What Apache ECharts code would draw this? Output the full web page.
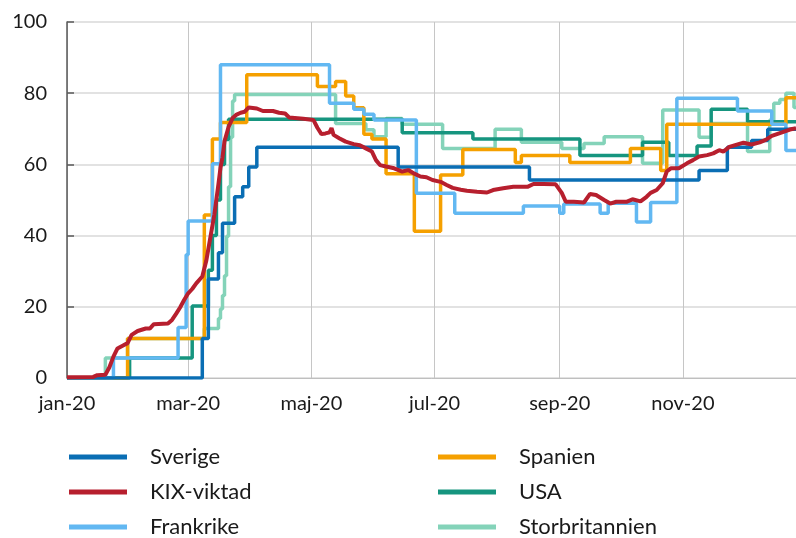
<!DOCTYPE html>
<html>
<head>
<meta charset="utf-8">
<script src="https://cdn.jsdelivr.net/npm/echarts@6/dist/echarts.min.js"></script>
<style>
  html, body { margin: 0; padding: 0; background: #fff; }
  #chart { width: 796px; height: 538px; }
</style>
</head>
<body>
<div id="chart"></div>
<script>
// axis setup
const monthNames = ['jan', 'feb', 'mar', 'apr', 'maj', 'jun', 'jul', 'aug', 'sep', 'okt', 'nov', 'dec']
const xStart = '2020-01-01'
const xEnd = '2020-12-27'
const yMin = 0
const yMax = 100
const yStep = 20

// stringency index, [date, value] where the value holds from that date on
const sverige = [
  ['2020-01-01', 0], ['2020-03-08', 11.1], ['2020-03-11', 27.8], ['2020-03-16', 35.2],
  ['2020-03-18', 43.5], ['2020-03-24', 50.9], ['2020-03-28', 53.7], ['2020-03-31', 59.3],
  ['2020-04-04', 64.8], ['2020-06-13', 59.3], ['2020-08-17', 55.6], ['2020-11-09', 58.3],
  ['2020-11-23', 64.8], ['2020-12-05', 66.7], ['2020-12-13', 69.9], ['2020-12-27', 69.9]
]
const spanien = [
  ['2020-01-01', 0], ['2020-01-31', 11.1], ['2020-03-09', 45.8], ['2020-03-13', 67.1],
  ['2020-03-17', 71.8], ['2020-03-30', 85.2], ['2020-05-04', 81.9], ['2020-05-13', 83.3],
  ['2020-05-18', 79.2], ['2020-05-22', 75.9], ['2020-05-27', 68.5], ['2020-05-31', 67.1],
  ['2020-06-07', 57.4], ['2020-06-21', 41.2], ['2020-07-04', 57.0], ['2020-07-15', 64.2],
  ['2020-08-10', 60.5], ['2020-08-13', 62.5], ['2020-09-06', 60.5], ['2020-10-06', 64.5],
  ['2020-10-21', 58.3], ['2020-10-24', 71.3], ['2020-12-22', 78.7], ['2020-12-27', 78.7]
]
const usa = [
  ['2020-01-01', 0], ['2020-02-01', 5.6], ['2020-03-03', 20.2], ['2020-03-11', 30.3],
  ['2020-03-13', 40.0], ['2020-03-15', 50.0], ['2020-03-17', 60.0], ['2020-03-19', 67.0],
  ['2020-03-21', 72.7], ['2020-06-15', 68.9], ['2020-07-20', 67.1], ['2020-09-11', 62.5],
  ['2020-10-12', 66.2], ['2020-10-25', 62.5], ['2020-11-08', 65.2], ['2020-11-15', 75.5],
  ['2020-12-03', 72.0], ['2020-12-27', 72.0]
]
const frankrike = [
  ['2020-01-01', 0], ['2020-01-24', 5.6], ['2020-02-25', 14.2], ['2020-02-29', 34.6],
  ['2020-03-01', 44.1], ['2020-03-13', 60.2], ['2020-03-17', 88.0], ['2020-05-10', 77.2],
  ['2020-05-22', 75.5], ['2020-05-27', 74.1], ['2020-06-01', 72.5], ['2020-06-22', 51.9],
  ['2020-07-11', 46.3], ['2020-08-14', 48.3], ['2020-09-01', 46.3], ['2020-09-03', 48.9],
  ['2020-09-21', 46.3], ['2020-09-25', 49.1], ['2020-10-09', 43.8], ['2020-10-16', 49.3],
  ['2020-10-29', 78.6], ['2020-11-28', 75.0], ['2020-12-15', 71.3], ['2020-12-22', 63.9],
  ['2020-12-27', 63.9]
]
const storbritannien = [
  ['2020-01-01', 0], ['2020-01-20', 5.6], ['2020-01-31', 11.1], ['2020-03-09', 13.9],
  ['2020-03-16', 16.7], ['2020-03-17', 19.4], ['2020-03-18', 23.2], ['2020-03-19', 28.7],
  ['2020-03-20', 39.8], ['2020-03-21', 53.7], ['2020-03-22', 67.6], ['2020-03-23', 77.8],
  ['2020-03-24', 79.6], ['2020-05-13', 71.5], ['2020-05-28', 69.7], ['2020-06-01', 67.8],
  ['2020-06-07', 72.9], ['2020-06-15', 71.3], ['2020-07-05', 64.5], ['2020-07-31', 69.9],
  ['2020-08-13', 66.2], ['2020-09-02', 64.5], ['2020-09-13', 65.9], ['2020-09-23', 67.8],
  ['2020-10-12', 60.3], ['2020-10-22', 75.3], ['2020-11-09', 67.6], ['2020-11-15', 71.5],
  ['2020-12-03', 63.6], ['2020-12-14', 72.5], ['2020-12-16', 77.2], ['2020-12-19', 78.2],
  ['2020-12-22', 80.0], ['2020-12-26', 76.0], ['2020-12-27', 76.0]
]
const kix = [
  ['2020-01-01', 0.2], ['2020-01-14', 0.3], ['2020-01-16', 0.8], ['2020-01-20', 0.9],
  ['2020-01-22', 3.0], ['2020-01-24', 6.0], ['2020-01-26', 8.3], ['2020-01-29', 9.2],
  ['2020-01-31', 9.8], ['2020-02-02', 12.1], ['2020-02-05', 13.2], ['2020-02-09', 13.9],
  ['2020-02-11', 13.9], ['2020-02-13', 15.1], ['2020-02-20', 15.3], ['2020-02-22', 16.3],
  ['2020-02-24', 18.0], ['2020-02-26', 19.8], ['2020-02-28', 21.9], ['2020-03-01', 23.8],
  ['2020-03-03', 25.0], ['2020-03-05', 26.6], ['2020-03-08', 28.5], ['2020-03-10', 33.0],
  ['2020-03-12', 39.5], ['2020-03-14', 46.0], ['2020-03-16', 54.5], ['2020-03-17', 59.0],
  ['2020-03-18', 62.0], ['2020-03-19', 66.5], ['2020-03-21', 70.5], ['2020-03-23', 73.0],
  ['2020-03-25', 74.0], ['2020-03-27', 74.5], ['2020-03-29', 74.8], ['2020-03-31', 76.0],
  ['2020-04-04', 75.7], ['2020-04-07', 75.0], ['2020-04-12', 75.0], ['2020-04-15', 74.5],
  ['2020-04-18', 74.3], ['2020-04-20', 73.2], ['2020-04-27', 72.8], ['2020-05-02', 72.5],
  ['2020-05-04', 70.3], ['2020-05-06', 68.5], ['2020-05-08', 68.7], ['2020-05-10', 69.0],
  ['2020-05-11', 70.2], ['2020-05-12', 68.3], ['2020-05-15', 67.3], ['2020-05-18', 66.4],
  ['2020-05-22', 65.7], ['2020-05-25', 65.4], ['2020-05-28', 64.5], ['2020-05-31', 63.6],
  ['2020-06-02', 61.2], ['2020-06-04', 59.8], ['2020-06-07', 59.4], ['2020-06-11', 58.9],
  ['2020-06-15', 58.0], ['2020-06-18', 58.4], ['2020-06-21', 57.4], ['2020-06-24', 56.6],
  ['2020-06-27', 56.4], ['2020-06-30', 55.6], ['2020-07-04', 55.1], ['2020-07-07', 54.2],
  ['2020-07-10', 53.4], ['2020-07-14', 52.9], ['2020-07-17', 52.6], ['2020-07-22', 52.3],
  ['2020-07-27', 52.1], ['2020-07-30', 52.8], ['2020-08-04', 53.3], ['2020-08-09', 53.7],
  ['2020-08-16', 53.7], ['2020-08-19', 54.5], ['2020-08-24', 54.5], ['2020-08-30', 54.4],
  ['2020-09-02', 52.0], ['2020-09-04', 49.5], ['2020-09-08', 49.5], ['2020-09-13', 49.3],
  ['2020-09-16', 51.7], ['2020-09-19', 51.4], ['2020-09-23', 50.0], ['2020-09-26', 49.0],
  ['2020-09-29', 49.5], ['2020-10-04', 49.5], ['2020-10-07', 50.2], ['2020-10-11', 49.6],
  ['2020-10-14', 50.9], ['2020-10-16', 52.0], ['2020-10-19', 52.8], ['2020-10-22', 54.7],
  ['2020-10-24', 58.0], ['2020-10-26', 58.9], ['2020-10-30', 58.9], ['2020-11-03', 60.3],
  ['2020-11-06', 61.2], ['2020-11-09', 62.2], ['2020-11-13', 62.6], ['2020-11-16', 63.1],
  ['2020-11-19', 64.0], ['2020-11-21', 63.6], ['2020-11-24', 64.9], ['2020-12-01', 66.1],
  ['2020-12-05', 65.6], ['2020-12-09', 66.2], ['2020-12-12', 66.9], ['2020-12-15', 68.0],
  ['2020-12-19', 68.8], ['2020-12-24', 69.8], ['2020-12-27', 70.2]
]

const colors = {
  sverige: '#0A6EB4',
  kix: '#B71F2E',
  frankrike: '#62B8F2',
  spanien: '#F5A000',
  usa: '#16957F',
  storbritannien: '#84D3B9'
}

const chart = echarts.init(document.getElementById('chart'), null, { renderer: 'canvas' })

const fontFamily = 'Lato, "Open Sans", sans-serif'
const textColor = '#1a1a1a'

const stepLine = (name, data, color, z) => ({
  name,
  type: 'line',
  step: 'end',
  data,
  z,
  showSymbol: false,
  symbol: 'none',
  color,
  lineStyle: { color, width: 3.5 }
})

const legendBase = {
  orient: 'vertical',
  top: 446,
  height: 130,
  padding: 0,
  itemWidth: 58,
  itemHeight: 5,
  itemGap: 13,
  icon: 'rect',
  selectedMode: false,
  textStyle: { fontFamily, fontSize: 22, lineHeight: 20, color: textColor, padding: [0, 0, 0, 18] }
}

const option = {
  animation: false,
  textStyle: { fontFamily },
  grid: { left: 67, right: 0, top: 22, bottom: 160, containLabel: false },
  legend: [
    { ...legendBase, left: 69, data: ['Sverige', 'KIX-viktad', 'Frankrike'] },
    { ...legendBase, left: 438, data: ['Spanien', 'USA', 'Storbritannien'] }
  ],
  xAxis: {
    type: 'time',
    min: xStart,
    max: xEnd,
    splitNumber: 5,
    axisLine: { lineStyle: { color: '#BFBFBF', width: 1 } },
    axisTick: { show: false },
    splitLine: { show: true, lineStyle: { color: '#C6C6C6', width: 1 } },
    minorTick: { show: false },
    axisLabel: {
      fontFamily,
      fontSize: 20,
      color: textColor,
      margin: 16,
      hideOverlap: false,
      formatter: (value) => {
        const d = new Date(value)
        return monthNames[d.getMonth()] + '-' + String(d.getFullYear()).slice(2)
      }
    }
  },
  yAxis: {
    type: 'value',
    min: yMin,
    max: yMax,
    interval: yStep,
    axisLine: { show: true, lineStyle: { color: '#595959', width: 1.5 } },
    axisTick: { show: true, inside: true, length: 7, lineStyle: { color: '#595959', width: 1.5 } },
    splitLine: { lineStyle: { color: '#D9D9D9', width: 1.5 } },
    axisLabel: { fontFamily, fontSize: 20, color: textColor, margin: 20 }
  },
  series: [
    stepLine('Storbritannien', storbritannien, colors.storbritannien, 1),
    stepLine('USA', usa, colors.usa, 2),
    stepLine('Spanien', spanien, colors.spanien, 3),
    stepLine('Frankrike', frankrike, colors.frankrike, 4),
    stepLine('Sverige', sverige, colors.sverige, 5),
    {
      name: 'KIX-viktad',
      type: 'line',
      data: kix,
      z: 6,
      showSymbol: false,
      symbol: 'none',
      color: colors.kix,
      lineStyle: { color: colors.kix, width: 4 }
    }
  ]
}

chart.setOption(option)
</script>
</body>
</html>
